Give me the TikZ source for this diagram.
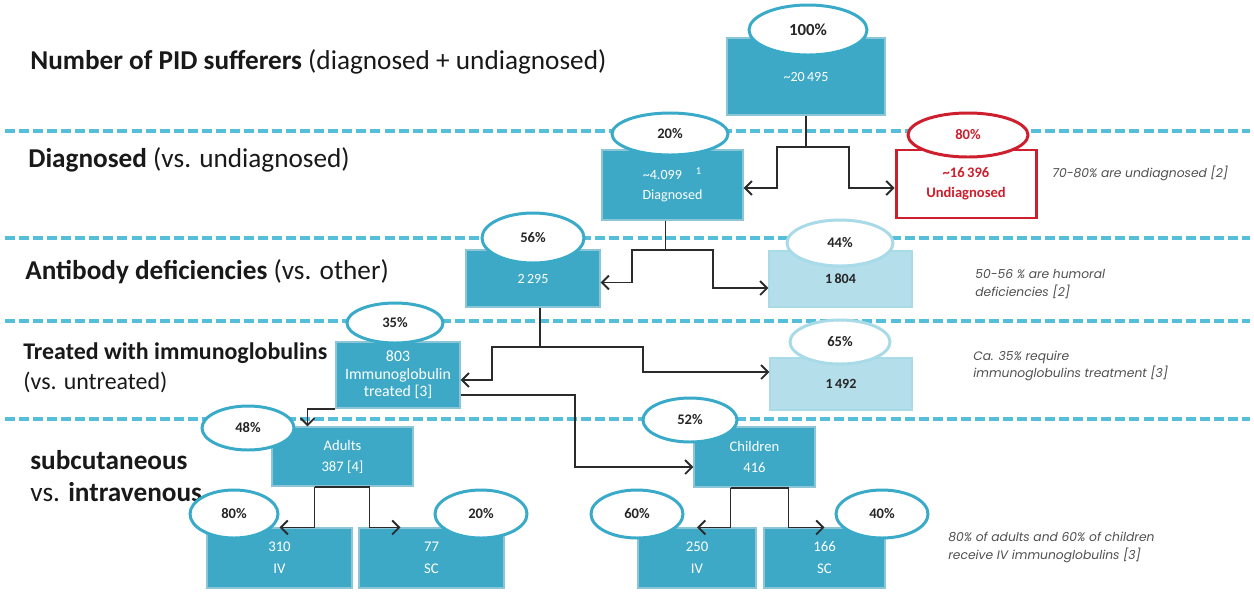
\documentclass[tikz,border=0pt]{standalone}
\usepackage{fontspec}
\setmainfont{Carlito}
\newfontfamily\annfont{Poppins}
\usetikzlibrary{shapes.geometric,arrows.meta,calc}
\definecolor{teal1}{HTML}{3EA9C6}
\definecolor{tealedge}{HTML}{8CC5D5}
\definecolor{ellb}{HTML}{3AAAC9}
\definecolor{lightb}{HTML}{B4DEEA}
\definecolor{lightedge}{HTML}{A9DAE7}
\definecolor{dashc}{HTML}{55BED9}
\definecolor{redc}{HTML}{CD1F2D}
\definecolor{conc}{HTML}{2B2B2B}
\definecolor{annc}{HTML}{505050}
\tikzset{
  bx/.style 2 args={rectangle, inner sep=0pt, minimum width={#1*0.02cm}, minimum height={#2*0.02cm}, fill=teal1, draw=tealedge, line width=0.6pt, text=white, font=\fontsize{8}{11.5}\selectfont, align=center},
  lbx/.style 2 args={bx={#1}{#2}, fill=lightb, draw=lightedge, text=black!85, font=\bfseries\fontsize{8}{11.5}\selectfont},
  pct/.style 2 args={ellipse, inner sep=0pt, minimum width={#1*0.02cm}, minimum height={#2*0.02cm}, fill=white, draw=ellb, line width=1.7pt, text=black!85, font=\bfseries\fontsize{8.3}{10}\selectfont},
  sep/.style={draw=dashc, line width=2.2pt, dash pattern=on 5.7pt off 2.3pt},
  conn/.style={draw=conc, line width=1.1pt},
  arr/.style={conn, -{Straight Barb[length=4pt,width=8pt]}},
  lab/.style={anchor=west, inner sep=0pt, align=left, font=\fontsize{15.5}{18}\selectfont, text=black!90},
  ann/.style={anchor=west, inner sep=0pt, align=left, font=\annfont\itshape\fontsize{7}{10.2}\selectfont, text=annc},
}
\begin{document}
\begin{tikzpicture}[x=0.02cm,y=-0.02cm]
\path[use as bounding box, fill=white] (0,0) rectangle (1254,592);
% separators
\draw[sep] (5,131) -- (1250,131);
\draw[sep] (5,238) -- (1250,238);
\draw[sep] (5,321) -- (1250,321);
\draw[sep] (5,419) -- (1250,419);
% row labels
\node[lab] (l1) at (30,62) {\textbf{Number of PID sufferers} (diagnosed + undiagnosed)};
\node[lab] (l2) at (28,160) {\textbf{Diagnosed} (vs. undiagnosed)};
\node[lab] (l3) at (25,272) {\textbf{Antibody deficiencies} (vs. other)};
\node[lab, font=\fontsize{13.6}{17}\selectfont] (l4) at (23,368) {\textbf{Treated with immunoglobulins}\\(vs. untreated)};
\node[lab, font=\fontsize{15.5}{18}\selectfont] (l5) at (30,476) {\textbf{subcutaneous}\\vs. \textbf{intravenous}};
% annotations
\node[ann] (a1) at (1052,173) {70-80\% are undiagnosed [2]};
\node[ann] (a2) at (975,284) {50-56 \% are humoral\\deficiencies [2]};
\node[ann] (a3) at (973,366) {Ca. 35\% require\\immunoglobulins treatment [3]};
\node[ann] (a4) at (948,547) {80\% of adults and 60\% of children\\receive IV immunoglobulins [3]};
% boxes
\node[bx={158}{77}] (top) at (806,76.5) {\textasciitilde20\,495};
\node[bx={141}{70}, font=\fontsize{8}{11.3}\selectfont] (diag) at (672.5,185) {\textasciitilde4.099\hspace{8pt}\textsuperscript{1}\\Diagnosed};
\node[bx={140}{68}, fill=white, draw=redc, line width=1.7pt, text=redc, font=\bfseries\fontsize{8.3}{11.3}\selectfont] (undiag) at (966,184) {\textasciitilde16\,396\\Undiagnosed};
\node[bx={134}{57}] (ab) at (533,278.5) {2\,295};
\node[lbx={143}{56}] (oth) at (840.5,279) {1\,804};
\node[bx={124}{66}, font=\fontsize{9}{10}\selectfont] (treated) at (398,375) {803\\Immunoglobulin\\treated [3]};
\node[lbx={142}{52}] (untr) at (841,384) {1\,492};
\node[bx={141}{59}, font=\fontsize{8.3}{12}\selectfont] (adults) at (342.5,456.5) {Adults\\387 [4]};
\node[bx={121}{60}, font=\fontsize{8.3}{12}\selectfont] (children) at (754.5,457) {Children\\416};
\node[bx={145}{60}, font=\fontsize{8.4}{12.5}\selectfont] (iv1) at (279.5,558) {310\\IV};
\node[bx={145}{60}, font=\fontsize{8.4}{12.5}\selectfont] (sc1) at (431.5,558) {77\\SC};
\node[bx={118}{60}, font=\fontsize{8.4}{12.5}\selectfont] (iv2) at (697,558) {250\\IV};
\node[bx={121}{60}, font=\fontsize{8.4}{12.5}\selectfont] (sc2) at (824.5,558) {166\\SC};
% percentage ellipses
\node[pct={118}{50}, font=\bfseries\fontsize{9.6}{10}\selectfont] (p100) at (808,30) {100\%};
\node[pct={116}{42}] (p20) at (670,134) {20\%};
\node[pct={120}{44}, draw=redc, text=redc] (p80) at (968,135) {80\%};
\node[pct={102}{50}] (p56) at (533,238) {56\%};
\node[pct={106}{46}, draw=lightedge] (p44) at (840,243) {44\%};
\node[pct={96}{40}] (p35) at (395,323) {35\%};
\node[pct={100}{44}, draw=lightedge] (p65) at (840,342) {65\%};
\node[pct={92}{44}] (p48) at (248,428) {48\%};
\node[pct={94}{44}] (p52) at (690,420) {52\%};
\node[pct={88}{48}] (p80b) at (234,514) {80\%};
\node[pct={92}{48}] (p20b) at (481,514) {20\%};
\node[pct={92}{48}] (p60) at (637,514) {60\%};
\node[pct={92}{48}] (p40) at (882,514) {40\%};
% connectors
\draw[arr] (top.south) |- (777,147) |- ($(diag.east)+(0,3)$);
\draw[arr] (top.south) |- (849,147) |- ($(undiag.west)+(0,4)$);
\draw[arr] ($(diag.south)+(-7,0)$) |- (632,250) |- ($(ab.east)+(0,4)$);
\draw[arr] ($(diag.south)+(-7,0)$) |- (713,250) |- ($(oth.west)+(0,9)$);
\draw[arr] ($(ab.south)+(7,0)$) |- (492,347) |- ($(treated.east)+(0,5)$);
\draw[arr] ($(ab.south)+(7,0)$) |- (643,347) |- ($(untr.west)+(0,-12)$);
\draw[arr] (treated.south west) -| ($(adults.north)+(-35,0)$);
\draw[arr] ($(treated.east)+(0,20)$) -| (575,467) -- ($(children.west)+(0,10)$);
\draw[conn] ($(adults.south)+(-28,0)$) -- ($(adults.south)+(27,0)$);
\draw[arr] ($(adults.south)+(-28,0)$) |- (iv1.north);
\draw[arr] ($(adults.south)+(27,0)$) |- ($(sc1.north)+(-31,0)$);
\draw[conn] ($(children.south)+(-24,0)$) -- ($(children.south)+(34,0)$);
\draw[arr] ($(children.south)+(-24,0)$) |- (iv2.north);
\draw[arr] ($(children.south)+(34,0)$) |- (sc2.north);
\end{tikzpicture}
\end{document}
